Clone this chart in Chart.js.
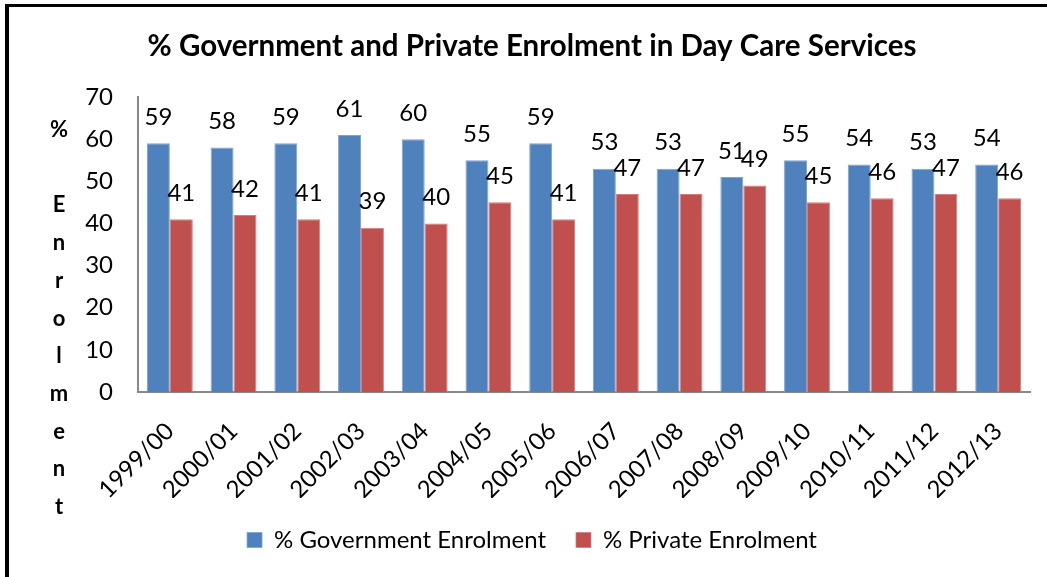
<!DOCTYPE html>
<html>
<head>
<meta charset="utf-8">
<title>Day Care Enrolment</title>
<script src="https://cdn.jsdelivr.net/npm/chart.js@4/dist/chart.umd.min.js"></script>
<style>
    html, body { margin: 0; padding: 0; background: #fff; overflow: hidden; }
    #wrap { position: relative; width: 1047px; height: 577px; }
    #frame {
        position: absolute; left: 5px; top: 4px; right: -10px; bottom: -10px;
        border-left: 4px solid #000; border-top: 3px solid #000;
        pointer-events: none;
    }
    canvas { position: absolute; left: 0; top: 0; }
</style>
</head>
<body>
<div id="wrap">
    <canvas id="enrolChart" width="1047" height="577"></canvas>
    <div id="frame"></div>
</div>
<script>
// Year labels and enrolment shares (%)
const YEARS = ['1999/00', '2000/01', '2001/02', '2002/03', '2003/04', '2004/05', '2005/06',
               '2006/07', '2007/08', '2008/09', '2009/10', '2010/11', '2011/12', '2012/13'];
const GOVERNMENT = [59, 58, 59, 61, 60, 55, 59, 53, 53, 51, 55, 54, 53, 54];
const PRIVATE = [41, 42, 41, 39, 40, 45, 41, 47, 47, 49, 45, 46, 47, 46];
const Y_TICKS = [0, 10, 20, 30, 40, 50, 60, 70];
const Y_TITLE = ['%', '', 'E', 'n', 'r', 'o', 'l', 'm', 'e', 'n', 't'];

const FONT = "Lato, 'Open Sans', sans-serif";

// value labels above each bar
const barLabelPlugin = {
    id: 'barLabels',
    afterDatasetsDraw(chart) {
        const ctx = chart.ctx;
        ctx.save();
        ctx.font = `24px ${FONT}`;
        ctx.fillStyle = '#000';
        ctx.textAlign = 'center';
        ctx.textBaseline = 'middle';
        chart.data.datasets.forEach((ds, i) => {
            chart.getDatasetMeta(i).data.forEach((bar, j) => {
                ctx.fillText(String(ds.data[j]), bar.x, bar.y - 26);
            });
        });
        ctx.restore();
    }
};

// stacked letters for the y axis title
const stackedTitlePlugin = {
    id: 'stackedTitle',
    afterDraw(chart) {
        const ctx = chart.ctx;
        ctx.save();
        ctx.font = `bold 22px ${FONT}`;
        ctx.fillStyle = '#000';
        ctx.textAlign = 'center';
        ctx.textBaseline = 'middle';
        Y_TITLE.forEach((ch, i) => {
            if (ch) ctx.fillText(ch, 59, 130 + i * 37.7);
        });
        ctx.restore();
    }
};

new Chart(document.getElementById('enrolChart'), {
    type: 'bar',
    data: {
        labels: YEARS,
        datasets: [
            {
                label: '% Government Enrolment',
                data: GOVERNMENT,
                backgroundColor: '#4F81BD',
                borderColor: '#7EA3D1',
                borderWidth: { top: 1, left: 1, right: 1, bottom: 0 },
                barPercentage: 1,
                categoryPercentage: 0.72
            },
            {
                label: '% Private Enrolment',
                data: PRIVATE,
                backgroundColor: '#C0504D',
                borderColor: '#D47D7A',
                borderWidth: { top: 1, left: 1, right: 1, bottom: 0 },
                barPercentage: 1,
                categoryPercentage: 0.72
            }
        ]
    },
    options: {
        responsive: false,
        animation: false,
        layout: { padding: { left: 34, right: 17, top: 14, bottom: 15 } },
        plugins: {
            title: {
                display: true,
                text: '% Government and Private Enrolment in Day Care Services',
                color: '#000',
                font: { family: FONT, size: 29.5, weight: 'bold', lineHeight: 1.2 },
                padding: { top: 15, bottom: 32.6 }
            },
            legend: {
                position: 'bottom',
                labels: {
                    color: '#000',
                    font: { family: FONT, size: 24 },
                    boxWidth: 15,
                    boxHeight: 15,
                    padding: 30
                }
            },
            tooltip: { enabled: false }
        },
        scales: {
            x: {
                afterFit(scale) { scale.height = 106; },
                grid: { display: false, drawTicks: false },
                border: { display: true, color: '#888', width: 2 },
                ticks: {
                    color: '#000',
                    font: { family: FONT, size: 24 },
                    minRotation: 45,
                    maxRotation: 45,
                    padding: 25
                }
            },
            y: {
                min: 0,
                max: 70,
                afterFit(scale) { scale.width = 104; },
                afterBuildTicks(scale) { scale.ticks = Y_TICKS.map(v => ({ value: v })); },
                grid: { display: false, drawTicks: false },
                border: { display: true, color: '#888', width: 2 },
                ticks: {
                    color: '#000',
                    font: { family: FONT, size: 24 },
                    padding: 25
                }
            }
        }
    },
    plugins: [barLabelPlugin, stackedTitlePlugin]
});
</script>
</body>
</html>
